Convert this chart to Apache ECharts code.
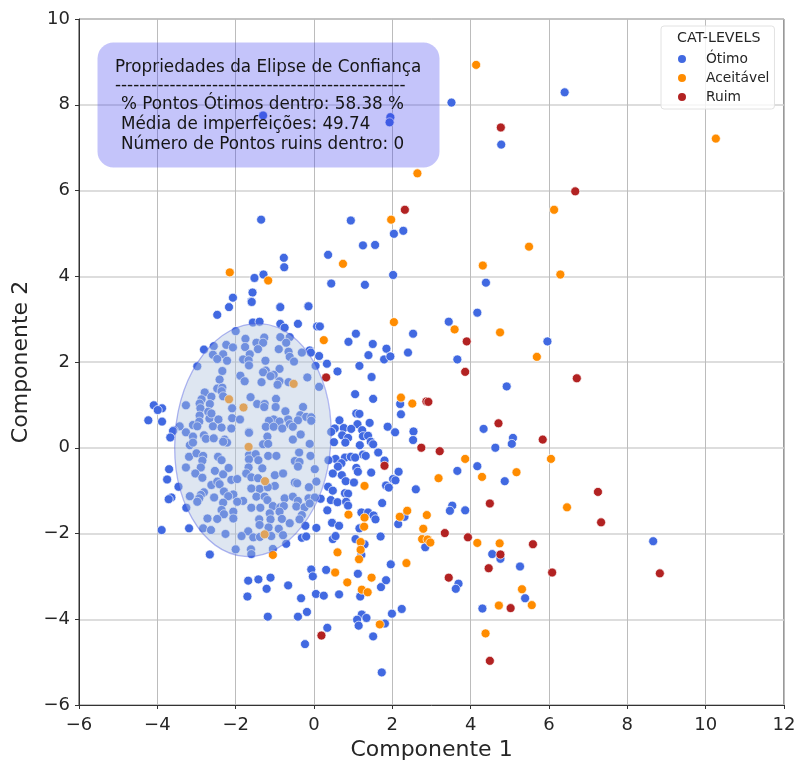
<!DOCTYPE html>
<html>
<head>
<meta charset="utf-8">
<style>
  html, body { margin: 0; padding: 0; background: #fff; }
  #chart { width: 797px; height: 762px; }
</style>
<script src="https://cdn.jsdelivr.net/npm/echarts@6/dist/echarts.min.js"></script>
</head>
<body>
<div id="chart"></div>
<script>
// valores (Componente 1, Componente 2)
const otimo = [
  [-1.30,7.75],[1.95,7.71],[1.93,7.59],[3.51,8.05],[6.40,8.29],[4.78,7.07],[-1.35,5.32],[0.94,5.30],[2.04,4.99],[2.28,5.06],
  [1.25,4.72],[1.56,4.73],[0.36,4.50],[-0.77,4.43],[-0.76,4.21],[2.02,4.03],[-1.29,4.04],[-1.52,3.96],[0.44,3.83],[1.30,3.80],
  [4.39,3.85],[-1.57,3.62],[-2.07,3.50],[-1.60,3.41],[-2.17,3.28],[-0.87,3.28],[-0.15,3.30],[4.17,3.15],[3.44,2.94],
  [0.08,2.83],[0.15,2.83],[1.07,2.66],[0.88,2.47],[1.50,2.42],[1.85,2.31],[1.39,2.16],[1.79,2.06],[1.95,2.13],[2.40,2.22],
  [2.53,2.66],[3.66,2.06],[0.13,2.14],[0.33,1.96],[0.04,1.91],[0.60,1.78],[1.16,1.91],[1.47,1.65],[0.13,1.42],[1.05,1.25],
  [1.51,1.14],[2.20,1.02],[2.22,0.78],[4.92,1.43],[5.96,2.48],[1.08,0.80],[1.16,0.79],[0.65,0.64],[1.42,0.58],[1.11,0.55],
  [1.88,0.49],[0.76,0.46],[0.95,0.44],[1.23,0.41],[0.53,0.45],[0.44,0.37],[2.07,0.36],[2.54,0.38],[2.53,0.18],[4.33,0.44],
  [5.08,0.23],[5.05,0.09],[4.63,0.00],[0.72,0.29],[0.87,0.23],[0.80,0.12],[0.51,0.13],[1.25,0.27],[1.38,0.28],[1.45,0.14],
  [1.51,0.08],[1.17,0.06],[1.64,-0.11],[1.25,-0.16],[1.32,-0.19],[0.79,-0.23],[0.94,-0.21],[1.05,-0.23],[0.55,-0.26],[0.37,-0.29],
  [0.70,-0.36],[0.61,-0.44],[1.08,-0.47],[1.12,-0.56],[0.48,-0.60],[0.71,-0.64],[0.81,-0.78],[1.02,-0.81],[1.46,-0.58],[1.80,-0.30],
  [2.16,-0.56],[2.02,-0.73],[2.08,-0.76],[1.84,-0.88],[1.91,-0.93],[2.60,-0.97],[3.66,-0.54],[4.17,-0.43],[4.87,-0.78],[0.36,-0.91],
  [0.48,-1.00],[0.79,-1.06],[0.87,-1.07],[0.17,-1.19],[0.43,-1.22],[0.60,-1.27],[0.82,-1.26],[0.87,-1.35],[1.74,-1.29],[0.34,-1.46],
  [1.21,-1.51],[1.38,-1.51],[1.52,-1.58],[1.57,-1.67],[2.31,-1.61],[2.15,-1.78],[0.46,-1.75],[0.64,-1.82],[1.16,-1.88],[0.06,-1.87],
  [3.53,-1.35],[3.47,-1.47],[3.86,-1.46],[1.06,-2.13],[1.70,-2.07],[0.48,-2.13],[0.55,-2.06],[8.66,-2.18],
  [-1.59,3.40],[-2.47,3.10],[-0.86,3.28],[-0.14,3.30],[-1.56,2.92],[-1.39,2.94],[-0.86,2.89],[-0.75,2.80],[-0.41,2.89],[-2.00,2.72],
  [-1.75,2.54],[-1.27,2.57],[-0.86,2.58],[-0.62,2.58],[-1.47,2.45],[-1.30,2.45],[-0.71,2.45],[-2.56,2.37],[-2.24,2.40],[-2.07,2.34],
  [-1.76,2.35],[-1.43,2.30],[-0.90,2.30],[-2.81,2.29],[-0.11,2.27],[-0.08,2.22],[-0.31,2.22],[-0.65,2.24],[-2.58,2.17],[-2.32,2.18],
  [-1.64,2.18],[-2.47,2.07],[-2.22,2.03],[-1.81,2.06],[-1.67,2.04],[-0.62,2.12],[-1.24,2.03],[-0.51,2.01],[-1.66,1.92],[-2.98,1.90],
  [-0.88,1.84],[-2.34,1.79],[-1.23,1.80],[-1.30,1.76],[-1.03,1.70],[-1.11,1.67],[-0.17,1.64],[-1.88,1.68],[-2.41,1.59],[-1.77,1.55],
  [-1.34,1.53],[-0.88,1.55],[-0.65,1.53],[-0.93,1.47],[-2.47,1.38],[-2.34,1.40],[-2.36,1.32],[-2.79,1.29],[-2.62,1.19],[-2.32,1.20],
  [-2.87,1.13],[-1.62,1.18],[-0.97,1.14],[-2.92,1.03],[-3.27,0.99],[-2.66,1.02],[-1.45,1.02],[-1.26,1.02],[-0.98,0.95],[-4.09,0.99],
  [-3.88,0.92],[-3.99,0.88],[-2.90,0.92],[-2.70,0.84],[-2.09,0.92],[-1.27,0.95],[-0.73,0.85],[-0.28,0.95],[-2.92,0.75],[-2.67,0.68],
  [-2.62,0.80],[-2.09,0.69],[-1.89,0.66],[-2.44,0.66],[-4.23,0.64],[-3.88,0.61],[-0.35,0.76],[-0.20,0.72],[-0.07,0.71],[-0.07,0.63],
  [-0.41,0.64],[-0.66,0.66],[-1.03,0.66],[-0.88,0.61],[-1.15,0.63],[-0.62,0.55],[-3.43,0.50],[-3.09,0.53],[-2.93,0.61],[-2.98,0.50],
  [-2.58,0.50],[-2.36,0.47],[-3.58,0.41],[-2.11,0.45],[-1.66,0.37],[-1.23,0.49],[-1.03,0.49],[-0.81,0.45],[-0.54,0.49],
  [-3.60,0.39],[-3.67,0.24],[-3.27,0.36],[-2.81,0.29],[-3.09,0.26],[-3.17,0.06],[-3.09,0.12],[-2.76,0.21],[-2.56,0.22],[-2.28,0.19],
  [-2.22,0.12],[-2.32,0.14],[-1.66,0.35],[-1.19,0.26],[-1.30,0.08],[-1.17,0.09],[-0.54,0.19],[-0.34,0.31],[-0.11,0.09],
  [-3.19,-0.21],[-3.00,-0.13],[-2.83,-0.19],[-2.85,-0.30],[-2.45,-0.21],[-2.36,-0.29],[-1.66,-0.17],[-1.49,-0.15],[-1.66,-0.27],[-1.42,-0.29],
  [-1.17,-0.19],[-0.96,-0.19],[-0.49,-0.31],[-0.38,-0.11],[-0.37,-0.33],[-0.09,-0.19],[-3.70,-0.50],[-3.27,-0.46],[-2.89,-0.46],[-3.03,-0.60],
  [-2.85,-0.70],[-2.53,-0.54],[-2.32,-0.62],[-2.18,-0.47],[-1.32,-0.48],[-1.67,-0.46],[-1.73,-0.60],[-1.60,-0.69],[-1.43,-0.71],[-1.00,-0.64],
  [-0.79,-0.60],[-0.41,-0.44],[0.02,-0.50],[-3.75,-0.74],[-3.46,-0.91],[-2.62,-0.87],[-2.47,-0.79],[-2.41,-0.85],[-2.11,-0.75],[-1.96,-0.73],
  [-1.00,-0.89],[-1.39,-0.96],[-1.60,-0.95],[-1.18,-0.92],[-0.49,-0.81],[-0.43,-0.83],[0.06,-0.79],[-0.13,-0.92],[-2.30,-1.02],[-2.81,-1.04],
  [-3.17,-1.13],[-3.64,-1.16],[-3.71,-1.20],[-2.89,-1.10],[-2.93,-1.18],[-2.98,-1.26],[-2.55,-1.16],[-2.06,-1.09],[-2.19,-1.13],[-1.47,-1.14],
  [-1.26,-1.14],[-1.19,-1.22],[-0.75,-1.18],[-0.54,-1.14],[-0.41,-1.24],[-0.14,-1.18],[0.02,-1.16],[-2.32,-1.28],[-1.81,-1.24],[-1.96,-1.26],
  [-3.26,-1.40],[-2.36,-1.45],[-2.06,-1.49],[-1.60,-1.40],[-1.37,-1.40],[-1.05,-1.36],[-0.86,-1.39],[-0.77,-1.36],[-0.45,-1.37],[-0.24,-1.39],
  [-0.11,-1.30],[-2.30,-1.55],[-1.13,-1.53],[-0.88,-1.49],[-0.31,-1.57],[-2.72,-1.65],[-2.47,-1.66],[-2.06,-1.65],[-1.40,-1.67],[-1.11,-1.67],
  [-0.82,-1.66],[-1.39,-1.80],[-1.16,-1.86],[-0.62,-1.76],[-0.37,-1.67],[-0.22,-1.82],[-3.89,-1.92],[-3.19,-1.88],[-2.83,-1.88],[-2.63,-1.92],
  [-0.90,-1.89],[-2.26,-2.01],[-1.68,-1.95],[-1.85,-2.06],[-1.55,-2.09],[-1.38,-2.08],[-1.09,-2.06],[-0.79,-2.04],[-0.31,-2.10],[-0.20,-2.07],
  [-0.71,-2.24],[-2.00,-2.37],[-2.66,-2.49],[-1.61,-2.37],[-1.60,-2.48],[-1.05,-2.36],
  [1.29,-2.25],[1.21,-2.50],[1.96,-2.72],[2.84,-2.32],[-0.07,-2.84],[0.31,-2.85],[-0.03,-3.00],[1.12,-2.94],[-1.68,-3.10],[-1.42,-3.07],
  [-1.11,-3.03],[-1.21,-3.29],[-0.66,-3.21],[-1.70,-3.47],[-0.33,-3.51],[0.05,-3.41],[0.25,-3.45],[0.64,-3.42],[1.18,-3.47],[1.71,-3.25],
  [1.84,-3.09],[3.69,-3.17],[3.62,-3.29],[4.55,-2.48],[4.76,-2.59],[5.26,-2.77],[5.39,-3.51],[4.30,-3.75],[2.24,-3.76],[1.99,-3.87],
  [-0.18,-3.83],[-0.41,-3.94],[-1.18,-3.94],[1.22,-3.89],[1.10,-4.01],[1.34,-3.97],[1.14,-4.15],[1.81,-4.10],[0.34,-4.20],[1.51,-4.40],
  [-0.23,-4.58],[1.73,-5.24]
];
const aceitavel = [
  [4.14,8.93],[10.26,7.21],[2.64,6.40],[6.13,5.55],[1.97,5.32],[5.49,4.69],[0.74,4.29],[4.31,4.25],[-2.15,4.09],[6.29,4.04],
  [-1.17,3.90],[2.04,2.93],[3.59,2.76],[4.75,2.69],[0.25,2.51],[5.69,2.12],[2.22,1.17],[2.51,1.03],[3.86,-0.26],[3.18,-0.71],
  [4.29,-0.68],[5.17,-0.57],[6.05,-0.26],[6.46,-1.39],[1.29,-0.89],[0.88,-1.56],[1.29,-1.63],[1.28,-1.84],[2.38,-1.47],[2.19,-1.61],
  [2.88,-1.57],[2.79,-1.89],[2.76,-2.13],[2.90,-2.14],[2.97,-2.21],[-0.52,1.49],[-2.17,1.13],[-1.80,0.94],[-1.67,0.02],[-1.25,-0.78],
  [-1.26,-2.02],[-1.05,-2.50],[0.60,-2.44],[1.19,-2.20],[1.19,-2.38],[1.15,-2.60],[0.54,-2.91],[0.85,-3.14],[1.47,-3.03],[1.22,-3.31],
  [1.37,-3.37],[2.36,-2.69],[4.17,-2.22],[4.74,-2.23],[5.31,-3.30],[5.56,-3.67],[4.72,-3.68],[1.68,-4.12],[4.38,-4.33]
];
const ruim = [
  [4.77,7.47],[6.67,5.98],[2.32,5.55],[3.90,2.48],[3.86,1.77],[6.71,1.62],[0.31,1.64],[2.87,1.08],[2.92,1.07],[4.71,0.57],
  [5.84,0.19],[2.74,0.00],[3.21,-0.08],[1.80,-0.42],[4.49,-1.30],[7.25,-1.03],[7.33,-1.74],[3.34,-1.99],[3.93,-2.09],[5.59,-2.25],
  [4.76,-2.49],[4.46,-2.81],[3.44,-3.03],[6.08,-2.91],[8.83,-2.93],[5.02,-3.74],[0.19,-4.38],[4.49,-4.97]
];
const elipse = [[-1.56, 0.18, 1.99, 2.72]]; // centro x, centro y, semi-eixos

const textoCaixa = [
  'Propriedades da Elipse de Confiança',
  '------------------------------------------------',
  '% Pontos Ótimos dentro: 58.38 %',
  'Média de imperfeições: 49.74',
  'Número de Pontos ruins dentro: 0'
];

const fonte = '"DejaVu Sans"';
const corTexto = '#262626';

function serieScatter(nome, dados, cor) {
  return {
    name: nome,
    type: 'scatter',
    data: dados,
    symbolSize: 9,
    z: 2,
    itemStyle: { color: cor, borderColor: '#fff', borderWidth: 0.7, opacity: 1 }
  };
}

function eixo(min, max, nome, extra, margem, corGrade, larguraGrade) {
  return Object.assign({
    type: 'value',
    min: min,
    max: max,
    interval: 2,
    name: nome,
    nameLocation: 'middle',
    nameTextStyle: { fontFamily: fonte, fontSize: 22, color: corTexto },
    axisLine: { onZero: false, lineStyle: { color: '#333', width: 1 } },
    axisTick: { show: true, length: 4, lineStyle: { color: '#333' } },
    axisLabel: {
      fontFamily: fonte, fontSize: 18, color: corTexto, margin: margem,
      formatter: v => String(v).replace('-', '\u2212')
    },
    splitLine: { show: true, lineStyle: { color: corGrade, width: larguraGrade } }
  }, extra);
}

const chart = echarts.init(document.getElementById('chart'));
chart.setOption({
  animation: false,
  backgroundColor: '#fff',
  grid: {
    left: 79, top: 19, width: 705, height: 686,
    outerBoundsMode: 'none',
    show: true, borderColor: '#333', borderWidth: 1, backgroundColor: 'transparent'
  },
  xAxis: eixo(-6, 12, 'Componente 1', { nameGap: 33 }, 11, '#bcbcbc', 1),
  yAxis: eixo(-6, 10, 'Componente 2', { nameGap: 47 }, 9, '#d2d2d2', 1.5),
  legend: {
    data: ['Ótimo', 'Aceitável', 'Ruim'],
    orient: 'vertical',
    left: 661,
    top: 26,
    padding: [26, 5, 5, 15],
    itemWidth: 10,
    itemHeight: 10,
    itemGap: 5,
    icon: 'circle',
    backgroundColor: 'rgba(255,255,255,0.8)',
    borderColor: '#e2e2e2',
    borderWidth: 1,
    borderRadius: 3,
    textStyle: { fontFamily: fonte, fontSize: 13.8, color: corTexto, padding: [0, 0, 0, 14] }
  },
  series: [
    serieScatter('Ótimo', otimo, '#4169e1'),
    serieScatter('Aceitável', aceitavel, '#ff8c00'),
    serieScatter('Ruim', ruim, '#b22222'),
    {
      type: 'custom',
      silent: true,
      z: 5,
      data: elipse,
      encode: { x: 0, y: 1 },
      renderItem: function (params, api) {
        const c = api.coord([api.value(0), api.value(1)]);
        const s = api.size([api.value(2), api.value(3)]);
        return {
          type: 'ellipse',
          x: c[0],
          y: c[1],
          rotation: -0.07,
          shape: { cx: 0, cy: 0, rx: s[0], ry: s[1] },
          style: { fill: 'rgba(176,196,222,0.42)', stroke: 'rgba(65,80,225,0.4)', lineWidth: 1.3 }
        };
      }
    }
  ],
  graphic: [
    {
      type: 'rect', z: 20, silent: true,
      shape: { x: 97.5, y: 42.5, width: 342, height: 125, r: 16 },
      style: { fill: 'rgba(60,60,240,0.3)' }
    },
    { type: 'text', z: 21, left: 115, top: 59, style: { text: textoCaixa[0], fontFamily: fonte, fontSize: 16.8, fill: '#151515' } },
    { type: 'text', z: 21, left: 115, top: 77, style: { text: textoCaixa[1], fontFamily: fonte, fontSize: 16.8, fill: '#151515' } },
    { type: 'text', z: 21, left: 121, top: 96, style: { text: textoCaixa[2], fontFamily: fonte, fontSize: 16.8, fill: '#151515' } },
    { type: 'text', z: 21, left: 121, top: 116, style: { text: textoCaixa[3], fontFamily: fonte, fontSize: 16.8, fill: '#151515' } },
    { type: 'text', z: 21, left: 121, top: 136, style: { text: textoCaixa[4], fontFamily: fonte, fontSize: 16.8, fill: '#151515' } },
    { type: 'text', z: 21, left: 677, top: 31, style: { text: 'CAT-LEVELS', fontFamily: fonte, fontSize: 14.2, fill: corTexto } }
  ]
});
</script>
</body>
</html>
